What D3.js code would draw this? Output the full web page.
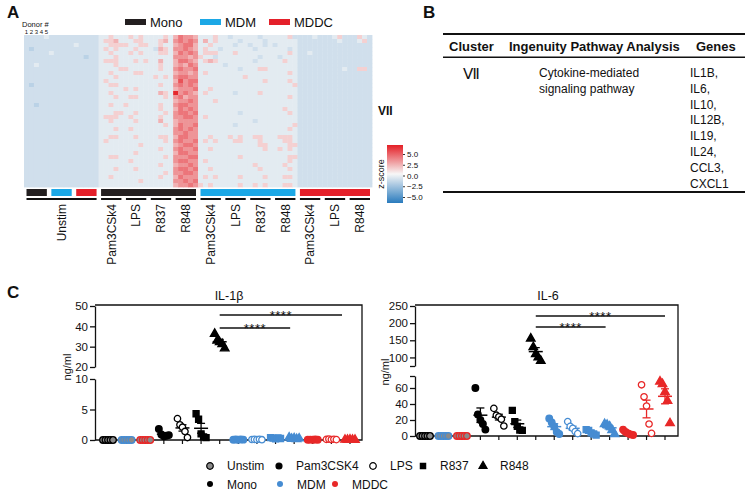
<!DOCTYPE html>
<html>
<head>
<meta charset="utf-8">
<script src="https://cdn.jsdelivr.net/npm/d3@7"></script>
<style>
  body { margin: 0; background: #fff; }
  text { font-family: "Liberation Sans", Arial, sans-serif; fill: #111; }
</style>
</head>
<body>
<div id="fig"></div>
<script>
// ---------- data ----------
const cellTypes = ["Mono", "MDM", "MDDC"];
// the 14 sample groups, same order in heatmap columns and in panel C
const groupCell = ["Mono","MDM","MDDC","Mono","Mono","Mono","Mono","MDM","MDM","MDM","MDM","MDDC","MDDC","MDDC"];
const groupStim = ["Unstim","Unstim","Unstim","Pam3CSk4","LPS","R837","R848","Pam3CSk4","LPS","R837","R848","Pam3CSk4","LPS","R848"];
const donors = [1, 2, 3, 4, 5];

// heatmap, cluster VII genes: one char per column (5 donors x 14 groups), char = level index
const zLevels = [-2.4, -1.5, -0.95, -0.5, 0.9, 1.6, 2.3, 3.0, 3.8, 4.8];
const heatRows = [
  "222232222222222 33433 34343 33343 57665 33343 32333 33233 33342 22232 22342 22432",
  "222222222222222 34453 33443 33453 67676 35343 33323 33323 33333 22222 22232 22342",
  "222222222232222 33444 43344 33433 56775 33433 33233 23323 23333 22222 22222 22222",
  "212222222222222 34343 33433 32543 66765 34332 33333 32333 33323 22222 22222 22222",
  "222223222222222 33433 34343 33443 57676 34443 33433 33333 33343 22322 22222 22222",
  "222222222222122 33343 33333 33333 66656 43323 33333 33233 32333 22222 22222 22222",
  "222222222222222 34443 33434 33533 57765 34543 33333 32333 33433 22222 22222 22222",
  "223222222222222 33343 33333 33433 56576 33333 23333 33333 33333 22222 22222 22222",
  "222222222222222 33334 43333 33433 67667 33333 33323 33443 33333 22222 22223 22442",
  "222222222222222 33433 33443 33333 56656 34333 33333 33333 33343 22222 22222 22222",
  "222222222222222 33343 33333 34343 67766 33333 33334 33333 33333 22222 22222 22222",
  "222222222222222 34333 33333 33333 58677 33333 33333 33343 33343 22222 22222 22222",
  "212222222222222 33443 33333 33433 67676 33333 33333 33333 33334 22222 22222 22222",
  "222222222222222 33333 43433 33333 56667 33433 33333 33333 33333 22222 22222 22222",
  "222222222222222 33433 33333 33543 96765 34333 33233 33433 33333 22222 22222 22222",
  "222222222222222 33343 34433 33343 67566 33333 33333 33333 33343 22222 22222 22222",
  "222222222222222 33333 33333 33333 56676 33343 33333 33333 33333 22222 22222 22222",
  "221222222222222 33433 43333 33433 67766 33333 33333 33333 33333 22222 22222 22222",
  "222222222222222 33333 33333 33433 57676 33333 33333 33333 33433 22222 22222 22222",
  "222222222222222 33344 33433 33343 67767 33333 33323 33333 33343 22222 22222 22222",
  "222222222222222 34443 34333 33433 66776 34333 33333 33333 33333 22222 22222 22222",
  "222222222222222 33433 33433 33533 56666 33333 33333 32333 33333 22222 22222 22222",
  "222222222222222 33333 33333 33343 57667 33333 33233 33333 33334 22222 22222 22222",
  "222222222222222 33343 34333 33333 67676 33333 33333 33333 33343 22222 22222 22222",
  "222222222222222 33333 33333 33333 66766 33333 33333 33333 33333 22222 22222 22222",
  "222222222222222 33443 33433 33443 57766 33433 34343 34433 34443 22222 22222 22222",
  "222222222222222 34333 33333 33343 67667 34343 33443 33433 33443 22222 22222 22222",
  "222222222222222 33333 33343 33333 56776 33333 33333 33443 33344 22222 22222 22222",
  "222222222222222 33333 33333 33433 67667 33433 33333 33343 34343 22222 22222 22222",
  "222222222222222 33333 33433 33333 57766 33333 33333 33333 33333 22222 22222 22222",
  "222222222222222 33443 33333 33343 66677 33333 33343 33333 33344 22222 22222 22222",
  "222222222222222 33333 34333 33333 67766 34333 33333 33333 33343 22222 22222 22222",
  "222222222222222 33333 33333 33433 56676 33333 33333 34333 33433 22222 22222 22222",
  "222222222222222 33343 33433 33333 67767 33433 33333 33433 33343 22222 22222 22222",
  "222222222222222 33333 33333 33343 66776 33333 33333 33333 33333 22222 22222 22222",
  "222222222222222 33433 33333 33433 57666 34343 33343 33343 33443 22222 22222 22222",
  "222222222222222 33333 33343 33333 66767 33333 33333 33333 33333 22222 22222 22222",
  "222222222222222 33333 33333 33333 56676 43433 33343 34343 33443 22222 22222 22222"
];
const zTicks = [5, 2.5, 0, -2.5, -5];

// panel B
const tableHeader = ["Cluster", "Ingenuity Pathway Analysis", "Genes"];
const pathwayLines = ["Cytokine-mediated", "signaling pathway"];
const genes = ["IL1B,", "IL6,", "IL10,", "IL12B,", "IL19,", "IL24,", "CCL3,", "CXCL1"];

// panel C, ng/ml, one value per donor
const il1b = [
  [0, 0, 0, 0, 0],
  [0, 0, 0, 0, 0],
  [0, 0, 0, 0, 0],
  [1.8, 0.9, 0.6, 0.7, 0.8],
  [3.5, 2.5, 2.1, 1.4, 0.4],
  [4.3, 3.4, 1.0, 0.5, 0.4],
  [36.3, 33, 32.2, 31.3, 29.2],
  [0.05, 0.08, 0.05, 0.1, 0.06],
  [0.08, 0.1, 0.06, 0.12, 0.05],
  [0.4, 0.3, 0.2, 0.35, 0.25],
  [0.4, 0.2, 0.3, 0.15, 0.25],
  [0.05, 0.06, 0.04, 0.08, 0.05],
  [0.1, 0.15, 0.08, 0.12, 0.06],
  [0.05, 0.04, 0.06, 0.05, 0.03]
];
const il6 = [
  [0, 0, 0, 0, 0],
  [0, 0, 0, 0, 0],
  [0, 0, 0, 0, 0],
  [60, 27, 20, 15, 8],
  [34.5, 26, 24, 21, 12.5],
  [32, 18, 12, 7.5, 7],
  [155, 130, 110, 100, 90],
  [22, 17, 12, 5, 2.5],
  [18, 12, 9.5, 5.5, 3],
  [8, 7, 4, 2.5, 1.2],
  [15, 14, 12, 7.5, 2.5],
  [8, 5, 3.3, 2, 1.2],
  [64, 49, 37.5, 15, 3.3],
  [68, 65, 55, 44, 16]
];
const sigPairs = [[6, 10], [6, 13]];
const legendStims = ["Unstim", "Pam3CSK4", "LPS", "R837", "R848"];

// ---------- setup ----------
const svg = d3.select("#fig").append("svg").attr("width", 750).attr("height", 494);

const barColor = {Mono: "#231f20", MDM: "#1ca8e6", MDDC: "#e4202a"};
const dotColor = {Mono: "#000000", MDM: "#468cd2", MDDC: "#e82828"};

// panel letters
svg.append("text").attr("x", 7).attr("y", 18).text("A").style("font-size", "17px").style("font-weight", "bold");
svg.append("text").attr("x", 423).attr("y", 18).text("B").style("font-size", "17px").style("font-weight", "bold");
svg.append("text").attr("x", 7).attr("y", 298).text("C").style("font-size", "17px").style("font-weight", "bold");

// ---------- A: heatmap ----------
const nCols = groupCell.length * donors.length;
const hx = d3.scaleBand().domain(d3.range(nCols)).range([24, 372]);
const hy = d3.scaleBand().domain(d3.range(heatRows.length)).range([35, 187]);
const zColor = d3.scaleLinear().domain([-5, 0, 5]).range(["#2a7bbd", "#f7f7f7", "#e41f26"]).clamp(true);

const cells = heatRows.flatMap((row, r) =>
  row.replace(/ /g, "").split("").map((ch, c) => ({r: r, c: c, z: zLevels[+ch]})));

svg.append("g")
  .selectAll("rect")
  .data(cells)
  .join("rect")
    .attr("x", d => hx(d.c))
    .attr("y", d => hy(d.r))
    .attr("width", hx.bandwidth() + 0.4)
    .attr("height", hy.bandwidth() + 0.4)
    .attr("fill", d => zColor(d.z));

const gx0 = i => hx(i * donors.length);
const gx1 = i => hx(i * donors.length + donors.length - 1) + hx.bandwidth();

// donor numbers
svg.append("text").attr("x", 22).attr("y", 27).text("Donor #").style("font-size", "7.5px");
svg.append("g").selectAll("text").data(donors).join("text")
  .attr("x", (d, i) => hx(i) + hx.bandwidth() / 2)
  .attr("y", 33.5)
  .attr("text-anchor", "middle")
  .style("font-size", "6px")
  .text(d => d);

// cell-type colour bars: unstim groups separately, stimulated ones merged by cell type
const unstimIdx = d3.range(groupCell.length).filter(i => groupStim[i] === "Unstim");
const stimIdx = d3.range(groupCell.length).filter(i => groupStim[i] !== "Unstim");
const barSegs = unstimIdx.map(i => ({from: i, to: i, cell: groupCell[i]}))
  .concat(cellTypes.map(c => {
    const idx = stimIdx.filter(i => groupCell[i] === c);
    return {from: d3.min(idx), to: d3.max(idx), cell: c};
  }));
svg.append("g").selectAll("rect").data(barSegs).join("rect")
  .attr("x", d => gx0(d.from) + 2.5)
  .attr("y", 189)
  .attr("width", d => gx1(d.to) - gx0(d.from) - 4.5)
  .attr("height", 7)
  .attr("fill", d => barColor[d.cell]);

// stimulus underlines + labels
const labelSegs = [{from: d3.min(unstimIdx), to: d3.max(unstimIdx), label: "Unstim"}]
  .concat(stimIdx.map(i => ({from: i, to: i, label: groupStim[i]})));
svg.append("g").selectAll("rect").data(labelSegs).join("rect")
  .attr("x", d => gx0(d.from) + 2.5)
  .attr("y", 198)
  .attr("width", d => gx1(d.to) - gx0(d.from) - 4.5)
  .attr("height", 2)
  .attr("fill", "#111");
svg.append("g").selectAll("text").data(labelSegs).join("text")
  .attr("transform", d => `translate(${(gx0(d.from) + gx1(d.to)) / 2 + 0.5},204)rotate(-90)`)
  .attr("text-anchor", "end")
  .attr("dominant-baseline", "central")
  .style("font-size", "12px")
  .text(d => d.label);

// legend on top
const legA = svg.append("g");
const legAx = [125, 200, 269];
cellTypes.forEach((c, i) => {
  legA.append("rect").attr("x", legAx[i]).attr("y", 19).attr("width", 21).attr("height", 6).attr("fill", barColor[c]);
  legA.append("text").attr("x", legAx[i] + 25).attr("y", 26.5).text(c).style("font-size", "13px");
});

// cluster label
svg.append("text").attr("x", 378).attr("y", 115).text("VII").style("font-size", "12px").style("font-weight", "bold");

// z-score colour bar
const defs = svg.append("defs");
const grad = defs.append("linearGradient").attr("id", "zgrad").attr("x1", 0).attr("x2", 0).attr("y1", 1).attr("y2", 0);
d3.range(-5, 5.01, 1).forEach(v => {
  grad.append("stop").attr("offset", (v + 5) / 10).attr("stop-color", zColor(v));
});
svg.append("rect").attr("x", 387).attr("y", 145).attr("width", 16).attr("height", 58).attr("fill", "url(#zgrad)");
const zScale = d3.scaleLinear().domain([-5, 5]).range([197, 154]);
svg.append("g")
  .attr("transform", "translate(403,0)")
  .call(d3.axisRight(zScale).tickValues(zTicks).tickSize(2).tickFormat(d3.format(".1f")))
  .call(g => g.select(".domain").remove())
  .call(g => g.selectAll("text").style("font-size", "8px").attr("x", 4))
  .call(g => g.selectAll("line").attr("stroke", "#333"));
svg.append("text")
  .attr("transform", "translate(381,174)rotate(-90)")
  .attr("text-anchor", "middle")
  .attr("dominant-baseline", "central")
  .style("font-size", "9px")
  .text("z-score");

// ---------- B: table ----------
const tb = svg.append("g");
tb.append("rect").attr("x", 443).attr("y", 33).attr("width", 302).attr("height", 2).attr("fill", "#111");
tb.append("rect").attr("x", 443).attr("y", 56.5).attr("width", 302).attr("height", 1.5).attr("fill", "#111");
tb.append("rect").attr("x", 443).attr("y", 191).attr("width", 302).attr("height", 2).attr("fill", "#111");
const headX = [449, 509, 696];
tableHeader.forEach((h, i) => {
  tb.append("text").attr("x", headX[i]).attr("y", 51).text(h).style("font-size", "13px").style("font-weight", "bold");
});
tb.append("text").attr("x", 463).attr("y", 79).text("Ⅶ").style("font-size", "15px");
pathwayLines.forEach((t, i) => {
  tb.append("text").attr("x", 539).attr("y", 77 + i * 15.8).text(t).style("font-size", "12px");
});
genes.forEach((t, i) => {
  tb.append("text").attr("x", 690).attr("y", 77 + i * 15.8).text(t).style("font-size", "12px");
});

// ---------- C: dot plots ----------
const symbolOf = {Unstim: d3.symbolCircle, Pam3CSk4: d3.symbolCircle, LPS: d3.symbolCircle, R837: d3.symbolSquare, R848: d3.symbolTriangle};
const sizeOf = {Unstim: 34, Pam3CSk4: 34, LPS: 32, R837: 36, R848: 32};
const spread = [-5, -2.5, 0, 2.5, 5];

function dotPanel(cfg) {
  const g = svg.append("g");
  const x = d3.scalePoint().domain(d3.range(groupCell.length)).range(cfg.xRange);
  const lo = d3.scaleLinear().domain(cfg.lowDomain).range(cfg.lowRange);
  const hi = d3.scaleLinear().domain(cfg.highDomain).range(cfg.highRange);
  const y = v => v <= cfg.lowDomain[1] ? lo(v) : hi(v);

  // frame
  g.append("path")
    .attr("d", `M${cfg.left},${cfg.top}H${cfg.right}V${cfg.bottom}H${cfg.left}`)
    .attr("fill", "none").attr("stroke", "#111").attr("stroke-width", 1.3);

  // broken y axis
  [[lo, cfg.lowTicks], [hi, cfg.highTicks]].forEach(([sc, ticks]) => {
    g.append("g")
      .attr("transform", `translate(${cfg.left},0)`)
      .call(d3.axisLeft(sc).tickValues(ticks).tickSize(5).tickSizeOuter(0)
        .tickFormat(d => cfg.noLabel.includes(d) ? "" : d))
      .call(a => a.selectAll("text").style("font-size", "11.5px").attr("x", -7))
      .call(a => a.selectAll("line,path").attr("stroke", "#111").attr("stroke-width", 1.3));
  });

  // x ticks
  g.append("g").selectAll("line").data(d3.range(groupCell.length)).join("line")
    .attr("x1", d => x(d)).attr("x2", d => x(d))
    .attr("y1", cfg.bottom).attr("y2", cfg.bottom + 4)
    .attr("stroke", "#111").attr("stroke-width", 1.2);

  // title + axis label
  g.append("text").attr("x", cfg.titleX).attr("y", 300).attr("text-anchor", "middle").text(cfg.title).style("font-size", "12.5px");
  g.append("text")
    .attr("transform", `translate(${cfg.labelX},${cfg.labelY})rotate(-90)`)
    .attr("text-anchor", "middle")
    .style("font-size", "11px")
    .text("ng/ml");

  // mean +/- SEM
  cfg.values.forEach((vals, i) => {
    const m = d3.mean(vals);
    const sem = d3.deviation(vals) / Math.sqrt(vals.length);
    const col = dotColor[groupCell[i]];
    const cx = x(i);
    g.append("line").attr("x1", cx - 7).attr("x2", cx + 7).attr("y1", y(m)).attr("y2", y(m)).attr("stroke", col).attr("stroke-width", 1.5);
    if (sem > 0) {
      g.append("line").attr("x1", cx).attr("x2", cx).attr("y1", y(Math.max(0, m - sem))).attr("y2", y(m + sem)).attr("stroke", col).attr("stroke-width", 1.3);
      [m - sem, m + sem].filter(v => v > 0).forEach(v => {
        g.append("line").attr("x1", cx - 4).attr("x2", cx + 4).attr("y1", y(v)).attr("y2", y(v)).attr("stroke", col).attr("stroke-width", 1.3);
      });
    }
  });

  // points
  const pts = cfg.values.flatMap((vals, i) => vals.map((v, k) => ({g: i, k: k, v: v})));
  g.append("g").selectAll("path").data(pts).join("path")
    .attr("transform", d => `translate(${x(d.g) + spread[d.k]},${y(d.v)})`)
    .attr("d", d => d3.symbol(symbolOf[groupStim[d.g]], sizeOf[groupStim[d.g]])())
    .attr("fill", d => groupStim[d.g] === "Unstim" ? "#8a8a8a" : groupStim[d.g] === "LPS" ? "#fff" : dotColor[groupCell[d.g]])
    .attr("stroke", d => dotColor[groupCell[d.g]])
    .attr("stroke-width", 1.3);

  // significance bars
  sigPairs.forEach(([a, b], j) => {
    const ly = cfg.sigY[j];
    g.append("line").attr("x1", x(a)).attr("x2", x(b) - cfg.sigTrim[j]).attr("y1", ly).attr("y2", ly)
      .attr("stroke", "#111").attr("stroke-width", 1.3);
    g.append("text").attr("x", (x(a) + x(b) - cfg.sigTrim[j]) / 2).attr("y", ly + 4.5)
      .attr("text-anchor", "middle").style("font-size", "13px").style("letter-spacing", "0.5px").text("****");
  });
}

dotPanel({
  values: il1b, title: "IL-1β", titleX: 229, labelX: 71, labelY: 367,
  left: 95, right: 362, top: 305, bottom: 440, xRange: [108, 350],
  lowDomain: [0, 10], lowRange: [440, 379], lowTicks: [0, 5, 10],
  highDomain: [20, 50], highRange: [367, 306], highTicks: [20, 30, 40, 50],
  noLabel: [], sigY: [328, 315], sigTrim: [4, 8]
});

dotPanel({
  values: il6, title: "IL-6", titleX: 548, labelX: 389, labelY: 372,
  left: 415, right: 678, top: 305, bottom: 436, xRange: [425, 665],
  lowDomain: [0, 75], lowRange: [436, 376], lowTicks: [0, 20, 40, 60, 75],
  highDomain: [75, 250], highRange: [366, 306], highTicks: [75, 100, 150, 200, 250],
  noLabel: [75], sigY: [327, 316], sigTrim: [4, 0]
});

// ---------- C legend ----------
const legC = svg.append("g");
const legStimX = [210, 279, 373, 423, 483];
legendStims.forEach((s, i) => {
  const key = s === "Pam3CSK4" ? "Pam3CSk4" : s;
  legC.append("path")
    .attr("transform", `translate(${legStimX[i]},466)`)
    .attr("d", d3.symbol(symbolOf[key], key === "Unstim" || key === "LPS" ? 34 : 28)())
    .attr("fill", key === "Unstim" ? "#8a8a8a" : key === "LPS" ? "#fff" : "#000")
    .attr("stroke", "#000").attr("stroke-width", 1.2);
  legC.append("text").attr("x", legStimX[i] + 17).attr("y", 470).text(s).style("font-size", "12px");
});
const legCellX = [210, 280, 335];
cellTypes.forEach((c, i) => {
  legC.append("circle").attr("cx", legCellX[i]).attr("cy", 484).attr("r", 3).attr("fill", dotColor[c]);
  legC.append("text").attr("x", legCellX[i] + 17).attr("y", 488.5).text(c).style("font-size", "12px");
});
</script>
</body>
</html>
